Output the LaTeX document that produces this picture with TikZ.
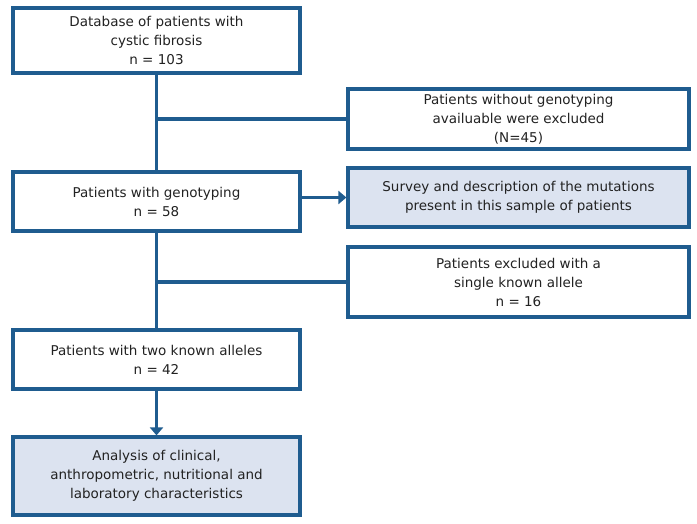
\documentclass[tikz,border=0pt]{standalone}
\usepackage{fontspec}
\setmainfont{DejaVu Sans}
\usetikzlibrary{arrows.meta}
\definecolor{edge}{HTML}{1F5C8F}
\definecolor{fillb}{HTML}{DCE3F0}
\definecolor{txt}{HTML}{222222}
\begin{document}
\begin{tikzpicture}[x=1pt,y=-1pt,
  box/.style={draw=edge,line width=3.2pt,rectangle,align=center,inner sep=0pt,
    font=\fontsize{13.5}{19}\selectfont,text=txt,fill=white},
  hl/.style={box,fill=fillb},
  link/.style={draw=edge,line width=3.2pt},
  arr/.style={link,-{Triangle[length=8pt,width=13pt]}}]
\useasboundingbox (0,0) rectangle (697,524);
\node[box,minimum width=287pt,minimum height=65pt] (b1) at (156.5,40.5) {Database of patients with\\cystic fibrosis\\n = 103};
\node[box,minimum width=341pt,minimum height=60pt] (b2) at (518.5,119) {Patients without genotyping\\availuable were excluded\\(N=45)};
\node[box,minimum width=287pt,minimum height=59pt] (b3) at (156.5,201.5) {Patients with genotyping\\n = 58};
\node[hl,minimum width=341pt,minimum height=59pt] (b4) at (518.5,197.5) {Survey and description of the mutations\\present in this sample of patients};
\node[box,minimum width=341pt,minimum height=70pt] (b5) at (518.5,282) {Patients excluded with a\\single known allele\\n = 16};
\node[box,minimum width=287pt,minimum height=59pt] (b6) at (156.5,359.5) {Patients with two known alleles\\n = 42};
\node[hl,minimum width=287pt,minimum height=78pt] (b7) at (156.5,476) {Analysis of clinical,\\anthropometric, nutritional and\\laboratory characteristics};
\draw[link] (b1.south) -- (b3.north);
\draw[link] (b1.south |- b2.west) -- (b2.west);
\draw[link] (b3.south) -- (b6.north);
\draw[link] (b3.south |- b5.west) -- (b5.west);
\draw[arr] (b3.east |- b4.west) -- (b4.west);
\draw[arr] (b6.south) -- (b7.north);
\end{tikzpicture}
\end{document}
